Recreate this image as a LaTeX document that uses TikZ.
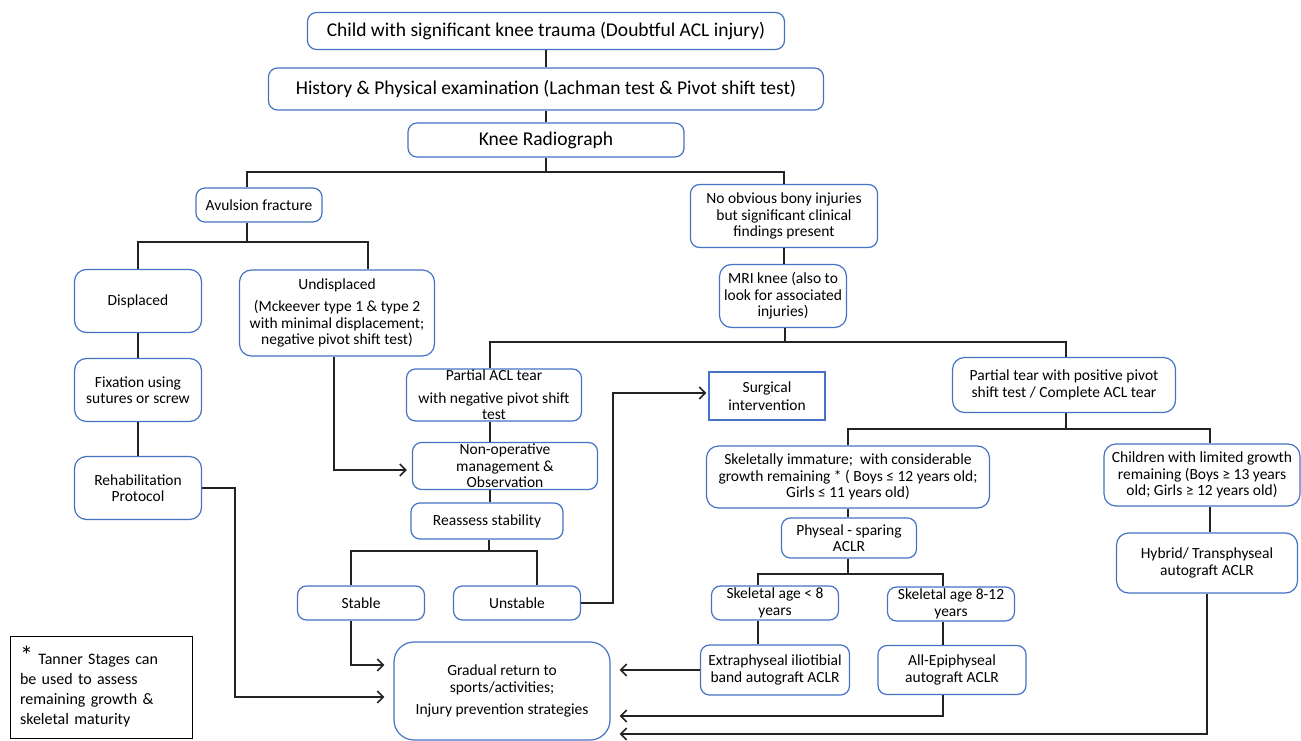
\documentclass[tikz,border=0pt]{standalone}
\usepackage{fontspec}
\setmainfont{Carlito}
\usetikzlibrary{arrows.meta}
\definecolor{boxblue}{RGB}{68,114,196}
\definecolor{linegray}{RGB}{35,35,35}

\begin{document}
\begin{tikzpicture}[x=1pt, y=-1pt,
	box/.style={draw=boxblue, line width=1.2pt, rounded corners=9pt, align=center, inner sep=0pt, font=\fontsize{15.5}{16.5}\selectfont},
	bigbox/.style={box, font=\fontsize{19.5}{23}\selectfont},
	link/.style={draw=linegray, line width=1.8pt},
	arr/.style={link, -{Straight Barb[length=6pt, width=12pt, line width=1.6pt]}, shorten >=9pt}]
	\useasboundingbox (0,0) rectangle (1301,741);
	
	\node (child) [bigbox, minimum width=477pt, minimum height=37pt] at (546,31) {Child with significant knee trauma (Doubtful ACL injury)};
	\node (hist) [bigbox, minimum width=555pt, minimum height=42pt] at (546,89) {History \& Physical examination (Lachman test \& Pivot shift test)};
	\node (knee) [bigbox, minimum width=276pt, minimum height=34pt] at (546,140) {Knee Radiograph};
	
	\node (avul) [box, minimum width=126pt, minimum height=34pt] at (259,205) {Avulsion fracture};
	\node (nobony) [box, minimum width=187pt, minimum height=63pt] at (784,216) {No obvious bony injuries\\but significant clinical\\findings present};
	\node (disp) [box, rounded corners=12pt, minimum width=127pt, minimum height=63pt] at (138,301) {Displaced};
	\node (undisp) [box, rounded corners=12pt, minimum width=195pt, minimum height=86pt] at (337,313) {Undisplaced\\[6pt](Mckeever type 1 \& type 2\\with minimal displacement;\\negative pivot shift test)};
	\node (fix) [box, rounded corners=12pt, minimum width=127pt, minimum height=63pt] at (138,390) {Fixation using\\sutures or screw};
	\node (rehab) [box, rounded corners=12pt, minimum width=127pt, minimum height=63pt] at (138,488) {Rehabilitation\\Protocol};
	\node (mri) [box, rounded corners=12pt, minimum width=127pt, minimum height=63pt] at (783,296) {MRI knee (also to\\look for associated\\injuries)};
	
	\node (pacl) [box, inner ysep=-4pt, minimum width=175pt, minimum height=52pt] at (494,395) {Partial ACL tear\\[6pt]with negative pivot shift\\test};
	\node (surg) [box, rounded corners=0pt, font=\fontsize{15.5}{18.5}\selectfont, minimum width=116pt, minimum height=48pt] at (767,396) {Surgical\\intervention};
	\node (ppos) [box, rounded corners=12pt, minimum width=223pt, minimum height=55pt] at (1064,385) {Partial tear with positive pivot\\shift test / Complete ACL tear};
	\node (nonop) [box, inner ysep=-4pt, minimum width=185pt, minimum height=47pt] at (505,466) {Non-operative\\management \&\\Observation};
	\node (reas) [box, minimum width=152pt, minimum height=36pt] at (487,521) {Reassess stability};
	\node (skim) [box, rounded corners=12pt, minimum width=283pt, minimum height=62pt] at (848,477) {Skeletally immature;~ with considerable\\growth remaining * ( Boys ≤ 12 years old;\\Girls ≤ 11 years old)};
	\node (lim) [box, rounded corners=12pt, minimum width=196pt, minimum height=62pt] at (1202,475) {Children with limited growth\\remaining (Boys ≥ 13 years\\old; Girls ≥ 12 years old)};
	\node (phys) [box, inner ysep=-2pt, minimum width=135pt, minimum height=40pt] at (849,538) {Physeal - sparing\\ACLR};
	\node (hyb) [box, rounded corners=12pt, minimum width=181pt, minimum height=60pt] at (1207,563) {Hybrid/ Transphyseal\\autograft ACLR};
	
	\node (stab) [box, minimum width=127pt, minimum height=34pt] at (361,603) {Stable};
	\node (unst) [box, minimum width=127pt, minimum height=34pt] at (517,603) {Unstable};
	\node (skA) [box, inner ysep=-3pt, minimum width=127pt, minimum height=34pt] at (775,603) {Skeletal age < 8\\years};
	\node (skB) [box, inner ysep=-3pt, minimum width=127pt, minimum height=34pt] at (951,604) {Skeletal age 8-12\\years};
	\node (extra) [box, minimum width=149pt, minimum height=50pt] at (775,670) {Extraphyseal iliotibial\\band autograft ACLR};
	\node (alle) [box, minimum width=148pt, minimum height=49pt] at (952,670) {All-Epiphyseal\\autograft ACLR};
	\node (grad) [box, rounded corners=20pt, minimum width=216pt, minimum height=98pt] at (502,691) {Gradual return to\\sports/activities;\\[6pt]Injury prevention strategies};
	\node (tanner) [draw=black, line width=1pt, align=left, text width=162pt, inner xsep=10pt, inner ysep=0pt, minimum height=102pt, font=\fontsize{16}{20}\selectfont] at (101,687) {{\fontsize{26}{20}\selectfont *} Tanner Stages can\\be used to assess\\remaining growth \&\\skeletal maturity};
	
	% junctions
	\coordinate (j1) at (546,172);
	\coordinate (j2) at (247,242);
	\coordinate (j3) at (785,342);
	\coordinate (j4) at (489,551);
	\coordinate (j5) at (1066,429);
	\coordinate (j6) at (848,574);
	\coordinate (r1) at (235,697);
	\coordinate (u1) at (613,393);
	
	\draw[link] (child) -- (hist);
	\draw[link] (hist) -- (knee);
	\draw[link] (knee) -- (j1);
	\draw[link] ([xshift=-12pt]avul.north) |- (j1) -| (nobony.north);
	\draw[link] ([xshift=-12pt]avul.south) -- (j2);
	\draw[link] (disp.north) |- (j2) -| ([xshift=31pt]undisp.north);
	\draw[link] (disp) -- (fix);
	\draw[link] (fix) -- (rehab);
	\draw[arr] (rehab.east) -| (r1) -- ([yshift=-6pt]grad.west);
	\draw[arr, shorten >=5pt] ([xshift=-3pt]undisp.south) |- ([yshift=-4pt]nonop.west);
	
	\draw[link] (nobony.south) -- (nobony.south |- mri.north);
	\draw[link] ([xshift=2pt]mri.south) -- (j3);
	\draw[link] ([xshift=-4pt]pacl.north) |- (j3) -| ([xshift=2pt]ppos.north);
	\draw[link] ([xshift=-4pt]pacl.south) -- ([xshift=-15pt]nonop.north);
	\draw[link] ([xshift=-15pt]nonop.south) -- ([xshift=3pt]reas.north);
	\draw[link] ([xshift=2pt]reas.south) -- (j4);
	\draw[link] ([xshift=-10pt]stab.north) |- (j4) -| ([xshift=20pt]unst.north);
	\draw[arr] ([xshift=-10pt]stab.south) |- ([yshift=26pt]grad.west);
	\draw[arr, shorten >=2pt] (unst.east) -| (u1) -- ([yshift=3pt]surg.west);
	
	\draw[link] ([xshift=2pt]ppos.south) -- (j5);
	\draw[link] (skim.north) |- (j5) -| ([xshift=8pt]lim.north);
	\draw[link] ([xshift=8pt]lim.south) -- ([xshift=3pt]hyb.north);
	\draw[link] (skim.south) -- (skim.south |- phys.north);
	\draw[link] ([xshift=-1pt]phys.south) -- (j6);
	\draw[link] ([xshift=-17pt]skA.north) |- (j6) -| ([xshift=-8pt]skB.north);
	\draw[link] ([xshift=-17pt]skA.south) -- ([xshift=-17pt]extra.north);
	\draw[link] ([xshift=-8pt]skB.south) -- ([xshift=-9pt]alle.north);
	\draw[arr] (extra.west) -- (grad.east |- extra.west);
	\draw[arr] ([xshift=-9pt]alle.south) |- ([yshift=-25pt]grad.east);
	\draw[arr] (hyb.south) |- ([yshift=-43pt]grad.east);
\end{tikzpicture}
\end{document}
